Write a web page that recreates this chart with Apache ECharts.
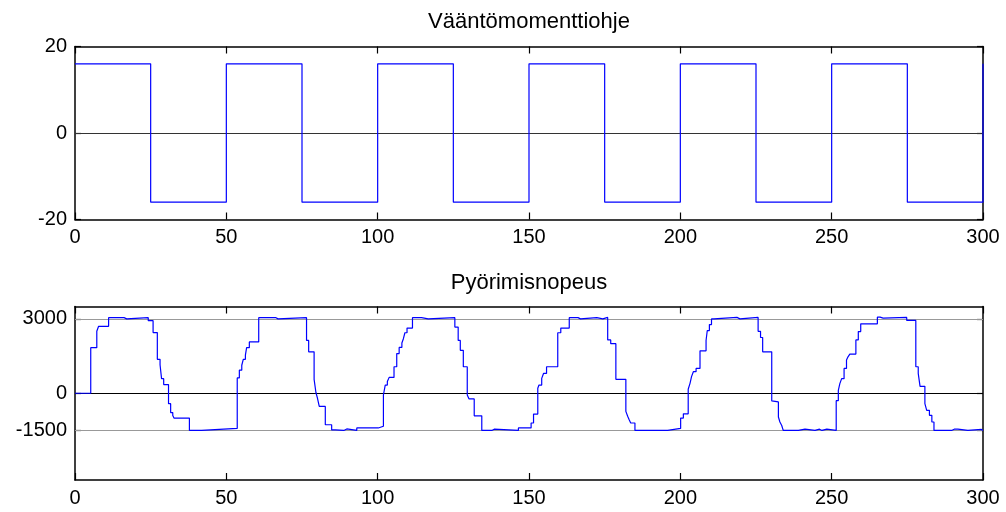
<!DOCTYPE html>
<html>
<head>
<meta charset="utf-8">
<script src="https://cdn.jsdelivr.net/npm/echarts@6/dist/echarts.min.js"></script>
<style>
html, body { margin: 0; padding: 0; background: #fff; }
#main { width: 1006px; height: 512px; }
</style>
</head>
<body>
<div id="main"></div>
<script>
// torque reference: value that starts at each time (step)
var torqueTime  = [0, 25, 50, 75, 100, 125, 150, 175, 200, 225, 250, 275, 300];
var torqueValue = [16, -16, 16, -16, 16, -16, 16, -16, 16, -16, 16, -16, 16];

// rotation speed: value that starts at each time (step)
var speedTime = [
    0, 5.2, 7.2, 7.8, 11.1, 16.2, 17.1, 24.2, 25.8, 27.2, 28.1, 28.6, 29.3, 30.9, 31.6, 32.3, 32.7, 37.8, 41.8,
    53.6, 54.3, 55.1, 55.6, 56.3, 56.7, 57.6, 60.7, 66.4, 67.1, 76.5, 77.2, 79.0, 79.6, 80.1, 80.7, 82.7, 84.8, 86.0,
    88.8, 89.8, 93.1, 100.2, 101.9, 102.5, 103.2, 103.8, 105.4, 106.3, 107.1, 108.0, 108.5, 109.0, 109.7, 111.5,
    114.5, 116.7, 125.5, 126.6, 127.3, 128.3, 129.6, 130.2, 131.9, 134.4, 137.7, 138.5, 146.5, 150.7, 151.5,
    152.9, 153.3, 154.2, 154.8, 155.8, 159.5, 160.5, 163.3, 166.2, 167.0, 172.4, 174.4, 176.0, 177.0, 178.7,
    182.0, 182.6, 183.1, 183.6, 185.0, 195.8, 200.1, 201.0, 202.6, 203.2, 203.7, 204.3, 205.2, 206.5, 208.5,
    208.9, 209.6, 210.3, 211.1, 218.7, 219.7, 225.7, 226.5, 227.2, 230.2, 230.7, 232.4, 232.9, 233.5, 234.0,
    239.0, 241.2, 244.5, 246.0, 246.8, 248.4, 251.5, 252.2, 252.7, 253.3, 254.1, 254.9, 255.4, 256.0, 258.0,
    258.8, 259.6, 265.1, 266.0, 267.0, 274.8, 277.8, 278.6, 279.2, 280.8, 281.4, 282.3, 283.1, 283.8,
    289.6, 290.5, 291.0, 291.7, 295.0, 299.5, 300
];
var speedValue = [
    0, 1840, 2500, 2700, 3050, 3000, 3050, 2930, 2450, 1370, 1150, 590, 350, -420, -780, -900, -1000, -1500, -1420,
    620, 930, 1130, 1370, 1540, 1840, 2070, 3050, 3000, 3050, 2130, 1670, 560, 30, -200, -530, -1270, -1480, -1500,
    -1440, -1500, -1400, -1330, -70, 330, 470, 640, 1070, 1600, 1850, 2030, 2200, 2440, 2630, 3050,
    3000, 3050, 2670, 2130, 1730, 1070, -70, -230, -910, -1500, -1450, -1500, -1400, -1200, -840,
    200, 330, 600, 800, 1070, 2440, 2630, 3050, 3000, 3050, 3000, 3060, 2150, 2000, 560,
    -730, -930, -1070, -1200, -1500, -1420, -1000, -830, 160, 400, 670, 870, 1000, 1710, 2130,
    2530, 2770, 3000, 3060, 3000, 3060, 2500, 2250, 1670, -310, -350, -960, -1160, -1300, -1500,
    -1450, -1500, -1450, -1500, -1450, -1500, -300, 120, 390, 590, 1000, 1340, 1470, 1580, 2150,
    2490, 2800, 3070, 3030, 3060, 2940, 1070, 800, 280, -420, -690, -890, -1160, -1500,
    -1450, -1500, -1450, -1500, -1460, -1500, -1500
];

var xTicks = [0, 300, 50];
var torqueTicks = [-20, 0, 20];
var speedTicks = [-1500, 0, 3000];
var speedRange = [-3500, 3500];
var torqueLines = [0];
var speedLines = [3000, 0, -1500];

function pairs(t, v) {
    var out = [];
    for (var i = 0; i < t.length; i++) out.push([t[i], v[i]]);
    return out;
}

var font = 'Liberation Sans, Arial, sans-serif';

function xAx(grid, pos, label) {
    return {
        gridIndex: grid, type: 'value', position: pos,
        min: xTicks[0], max: xTicks[1], interval: xTicks[2],
        axisLine: { show: true, onZero: false, lineStyle: { color: '#000', width: 1.5 } },
        axisTick: { show: true, inside: true, length: 7, lineStyle: { color: '#000', width: 1.2 } },
        axisLabel: { show: label, color: '#000', fontSize: 20, fontFamily: font, margin: 8 },
        splitLine: { show: false }
    };
}

function yAx(grid, pos, label, range, ticks) {
    return {
        gridIndex: grid, type: 'value', position: pos,
        min: range[0], max: range[1],
        axisLine: { show: true, onZero: false, lineStyle: { color: '#000', width: 1.5 } },
        axisTick: { show: true, inside: true, length: 6, customValues: ticks, lineStyle: { color: '#000', width: 1.2 } },
        axisLabel: {
            show: label, customValues: ticks, color: '#000', fontSize: 20, fontFamily: font, margin: 8,
            formatter: function (v) { return String(v); }
        },
        splitLine: { show: false }
    };
}

function refSeries(xi, yi, vals, zeroColor, otherColor) {
    return {
        type: 'line', xAxisIndex: xi, yAxisIndex: yi, data: [], z: 1,
        markLine: {
            silent: true, symbol: 'none', label: { show: false }, animation: false,
            data: vals.map(function (v) {
                return { yAxis: v, lineStyle: { color: v === 0 ? zeroColor : otherColor, width: 1, type: 'solid' } };
            })
        }
    };
}

var chart = echarts.init(document.getElementById('main'));
var option = {
    backgroundColor: '#fff',
    animation: false,
    grid: [
        { left: 75, right: 23, top: 46.5, height: 173 },
        { left: 75, right: 23, top: 306.5, height: 173.5 }
    ],
    xAxis: [
        xAx(0, 'bottom', true), xAx(0, 'top', false),
        xAx(1, 'bottom', true), xAx(1, 'top', false)
    ],
    yAxis: [
        yAx(0, 'left', true, [torqueTicks[0], torqueTicks[2]], torqueTicks),
        yAx(0, 'right', false, [torqueTicks[0], torqueTicks[2]], torqueTicks),
        yAx(1, 'left', true, speedRange, speedTicks),
        yAx(1, 'right', false, speedRange, speedTicks)
    ],
    graphic: [
        { type: 'text', x: 529, y: 22, style: { text: 'Vääntömomenttiohje', align: 'center', verticalAlign: 'middle', fontSize: 22, fontFamily: font, fill: '#000' } },
        { type: 'text', x: 529, y: 283, style: { text: 'Pyörimisnopeus', align: 'center', verticalAlign: 'middle', fontSize: 22, fontFamily: font, fill: '#000' } }
    ],
    series: [
        refSeries(0, 0, torqueLines, '#333', '#999'),
        refSeries(2, 2, speedLines, '#000', '#999'),
        {
            type: 'line', xAxisIndex: 0, yAxisIndex: 0, step: 'end',
            showSymbol: false, data: pairs(torqueTime, torqueValue),
            lineStyle: { color: '#0000ff', width: 1.2 }, clip: false,
            z: 5
        },
        {
            type: 'line', xAxisIndex: 2, yAxisIndex: 2, step: 'end',
            showSymbol: false, data: pairs(speedTime, speedValue),
            lineStyle: { color: '#0000ff', width: 1.2 },
            z: 5
        }
    ]
};
chart.setOption(option);
</script>
</body>
</html>
